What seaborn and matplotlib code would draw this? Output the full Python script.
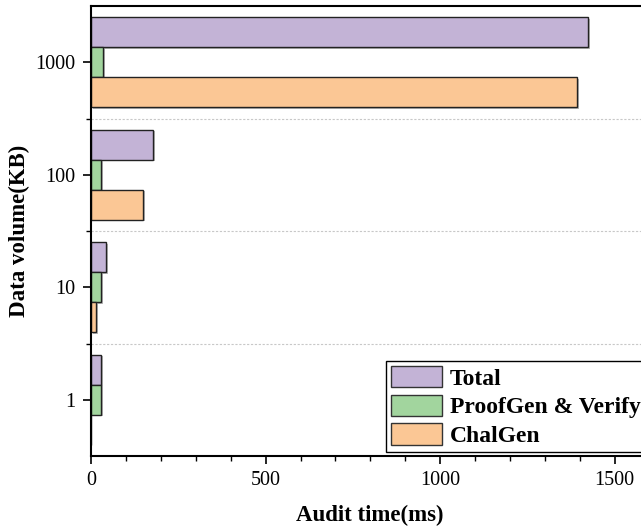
import matplotlib
matplotlib.use("Agg")
import matplotlib.pyplot as plt
import matplotlib.patheffects as pe
from matplotlib.ticker import MultipleLocator, FixedLocator
from matplotlib.patches import Patch
import seaborn as sns
import pandas as pd

volumes = ["1000", "100", "10", "1"]
series = ["Total", "ProofGen & Verify", "ChalGen"]
total = [1424, 178, 43, 29]
proofgen = [34, 29, 29, 29]
chalgen = [1392, 149, 14, 0]
colors = ["#c3b3d6", "#a2d59e", "#fbc795"]

rows = []
for name, vals in zip(series, [total, proofgen, chalgen]):
    for v, t in zip(volumes, vals):
        rows.append({"volume": v, "time": t, "series": name})
df = pd.DataFrame(rows)

sns.set_style("ticks")
plt.rcParams["font.family"] = ["Liberation Serif", "DejaVu Serif"]
plt.rcParams["text.color"] = "black"
plt.rcParams["axes.labelcolor"] = "black"
plt.rcParams["xtick.color"] = "black"
plt.rcParams["ytick.color"] = "black"

fig = plt.figure(figsize=(6.41, 5.30), dpi=100)
ax = fig.add_axes([91/641, 1-456/530, 551.7/641, 450/530])

sns.barplot(data=df, y="volume", x="time", hue="series", orient="h",
            order=volumes, hue_order=series, palette=colors, saturation=1,
            width=0.8, edgecolor="#222222", linewidth=1.0, errorbar=None,
            ax=ax, legend=False)

for p in ax.patches:
    p.set_path_effects([pe.SimplePatchShadow(offset=(1.2, -1.2), shadow_rgbFace="#888888", alpha=0.6), pe.Normal()])

ax.set_xlim(0, 1580)
ax.set_ylim(3.5, -0.5)
for yv in [0.5, 1.5, 2.5]:
    ax.axhline(yv, color="#c8c8c8", linestyle=(0, (2, 1.5)), linewidth=0.8, zorder=0)

ax.xaxis.set_major_locator(MultipleLocator(500))
ax.xaxis.set_minor_locator(MultipleLocator(100))
ax.yaxis.set_minor_locator(FixedLocator([0.5, 1.5, 2.5]))
ax.tick_params(axis="both", which="major", direction="out", length=6, width=1.2,
               labelsize=14.5, labelcolor="black", pad=5)
ax.tick_params(axis="both", which="minor", direction="out", length=3.5, width=1.0)
for s in ["left", "bottom", "top", "right"]:
    ax.spines[s].set_linewidth(1.5)
    ax.spines[s].set_color("black")
ax.spines["right"].set_visible(False)

ax.set_xlabel("Audit time(ms)", fontsize=16.5, fontweight="bold")
ax.set_ylabel("Data volume(KB)", fontsize=16.5, fontweight="bold")
ax.xaxis.set_label_coords(0.506, -0.108)
ax.yaxis.set_label_coords(-0.110, 0.5)

handles = [Patch(facecolor=c, edgecolor="#333333", linewidth=1.0) for c in colors]
leg = ax.legend(handles, series, loc="lower left", bbox_to_anchor=(0.535, 0.009),
                prop={"family": "Liberation Serif", "weight": "bold", "size": 17},
                handlelength=2.16, handleheight=1.02, labelspacing=0.21, borderpad=0.2,
                handletextpad=0.34, borderaxespad=0, fancybox=False, framealpha=1,
                edgecolor="black")
leg.get_frame().set_linewidth(1.0)

fig.savefig("out.png", dpi=100)
